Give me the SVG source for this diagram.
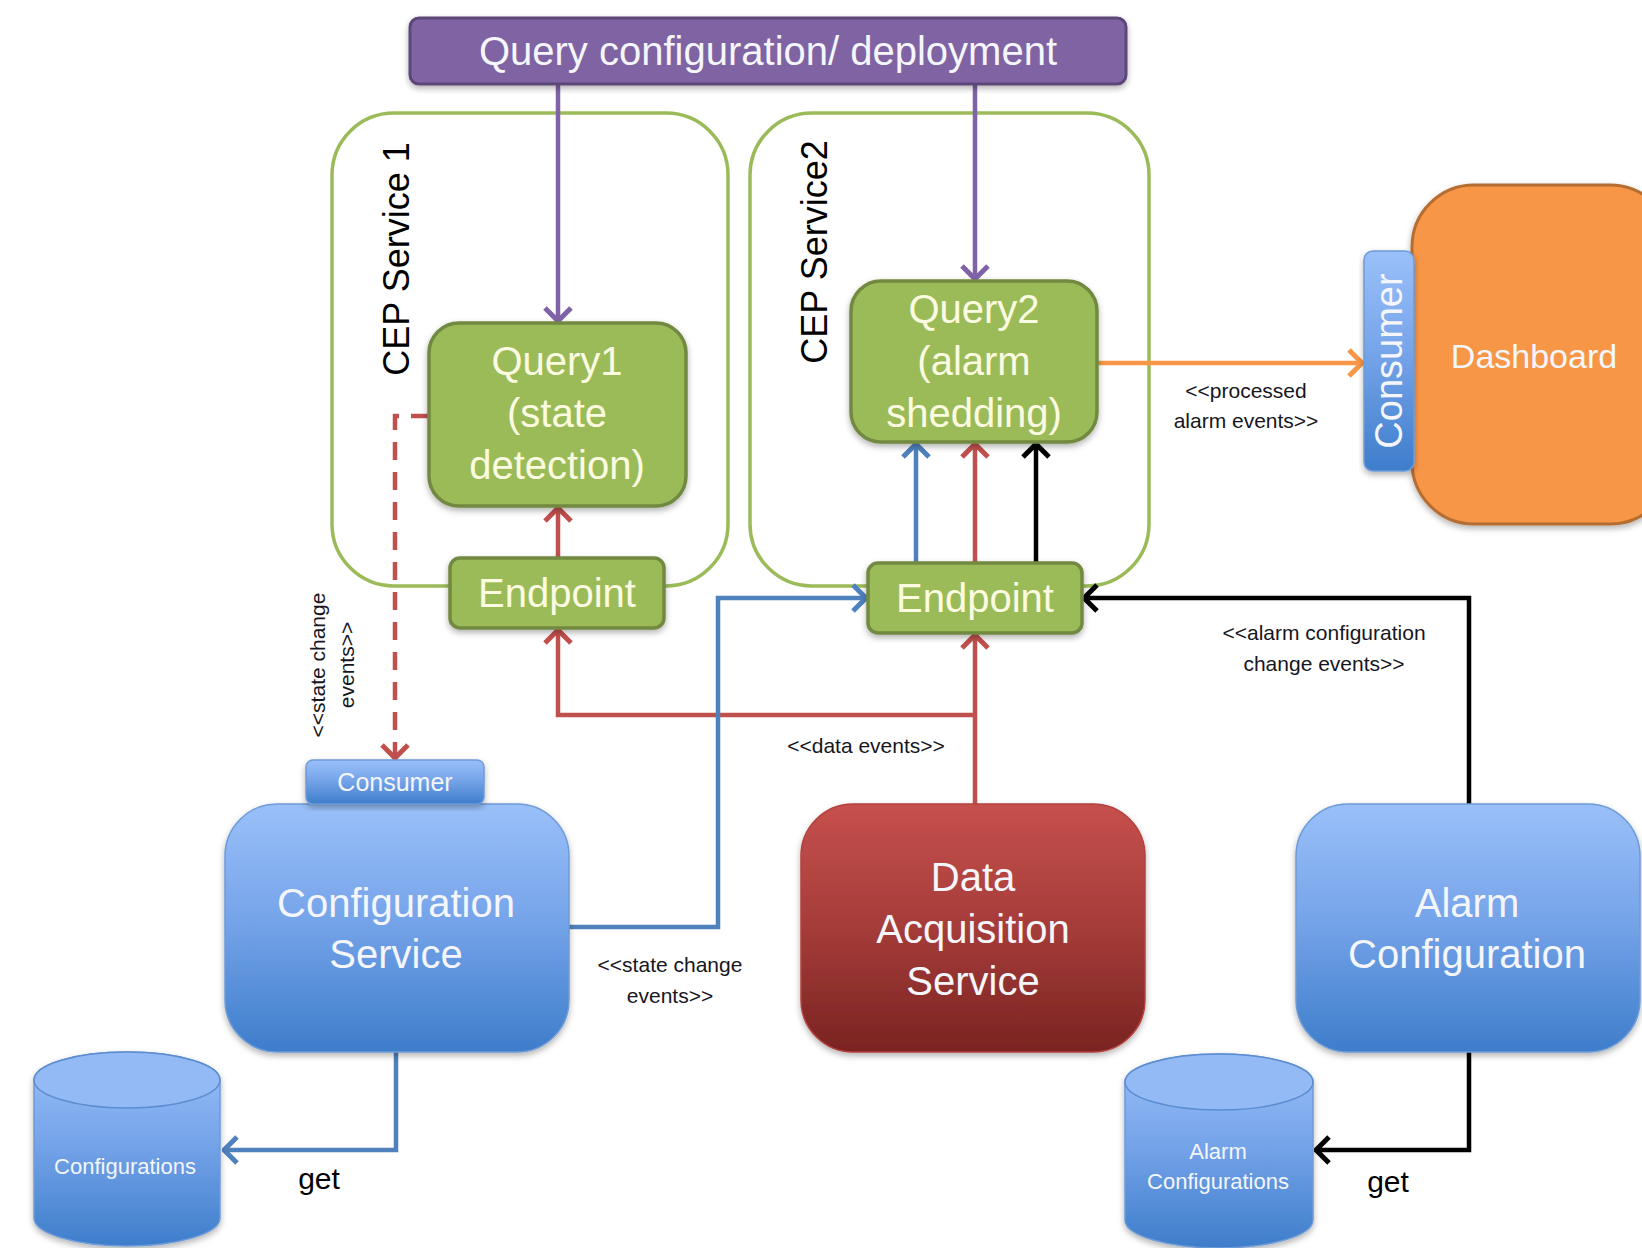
<svg xmlns="http://www.w3.org/2000/svg" width="1642" height="1248" viewBox="0 0 1642 1248">
<style>
text{font-family:"Liberation Sans",Arial,sans-serif;}
.c{text-anchor:middle;dominant-baseline:central;}
.q{fill:#FBFBE2;font-size:40px;}
.w{fill:#F4F6FB;}
.lbl{fill:#16161E;font-size:21px;}
.grn{fill:#9BBB59;stroke:#71893F;stroke-width:3.5;}
.cont{fill:none;stroke:#9BBB59;stroke-width:3.5;}
.blu{fill:url(#gBlue);stroke:#6D9BD8;stroke-width:1.5;}
.ln{fill:none;stroke-width:4.5;}
</style>
<defs>
<linearGradient id="gBlue" x1="0" y1="0" x2="0" y2="1">
<stop offset="0" stop-color="#9AC0F9"/>
<stop offset="0.45" stop-color="#77A5EA"/>
<stop offset="1" stop-color="#3E7DCB"/>
</linearGradient>
<linearGradient id="gRed" x1="0" y1="0" x2="0" y2="1">
<stop offset="0" stop-color="#C6504D"/>
<stop offset="0.5" stop-color="#A53C39"/>
<stop offset="1" stop-color="#7A2321"/>
</linearGradient>
<filter id="sh" x="-10%" y="-10%" width="120%" height="125%">
<feDropShadow dx="0" dy="3" stdDeviation="3" flood-color="#000" flood-opacity="0.3"/>
</filter>
<marker id="aPur" viewBox="0 0 30 30" markerUnits="userSpaceOnUse" markerWidth="30" markerHeight="30" refX="28" refY="15" orient="auto"><path d="M15,2 L28,15 L15,28" fill="none" stroke="#7F62A8" stroke-width="5"/></marker>
<marker id="aRed" viewBox="0 0 30 30" markerUnits="userSpaceOnUse" markerWidth="30" markerHeight="30" refX="28" refY="15" orient="auto"><path d="M15,2 L28,15 L15,28" fill="none" stroke="#C0504D" stroke-width="5"/></marker>
<marker id="aBlu" viewBox="0 0 30 30" markerUnits="userSpaceOnUse" markerWidth="30" markerHeight="30" refX="28" refY="15" orient="auto"><path d="M15,2 L28,15 L15,28" fill="none" stroke="#4F81BD" stroke-width="5"/></marker>
<marker id="aBlk" viewBox="0 0 30 30" markerUnits="userSpaceOnUse" markerWidth="30" markerHeight="30" refX="28" refY="15" orient="auto"><path d="M15,2 L28,15 L15,28" fill="none" stroke="#000" stroke-width="5"/></marker>
<marker id="aOra" viewBox="0 0 30 30" markerUnits="userSpaceOnUse" markerWidth="30" markerHeight="30" refX="28" refY="15" orient="auto"><path d="M15,2 L28,15 L15,28" fill="none" stroke="#F79646" stroke-width="5"/></marker>
</defs>
<rect width="1642" height="1248" fill="#fff"/>

<g id="cep1">
<rect class="cont" x="332" y="113" width="396" height="473" rx="62"/>
<text x="396" y="259" font-size="36" fill="#000" class="c" transform="rotate(-90 396 259)">CEP Service 1</text>
</g>
<g id="cep2">
<rect class="cont" x="750" y="113" width="399" height="473" rx="62"/>
<text x="814" y="252" font-size="36" fill="#000" class="c" transform="rotate(-90 814 252)">CEP Service2</text>
</g>

<g id="connectors">
<path class="ln" stroke="#7F62A8" d="M558,84 V321" marker-end="url(#aPur)"/>
<path class="ln" stroke="#7F62A8" d="M975,84 V279" marker-end="url(#aPur)"/>
<path class="ln" stroke="#C0504D" d="M558,558 V508" marker-end="url(#aRed)"/>
<path class="ln" stroke="#4F81BD" d="M916,563 V444" marker-end="url(#aBlu)"/>
<path class="ln" stroke="#C0504D" d="M975,563 V444" marker-end="url(#aRed)"/>
<path class="ln" stroke="#000" d="M1036,563 V444" marker-end="url(#aBlk)"/>
<path class="ln" stroke="#F79646" d="M1097,363 H1362" marker-end="url(#aOra)"/>
<path class="ln" stroke="#C0504D" d="M975,804 V635" marker-end="url(#aRed)"/>
<path class="ln" stroke="#C0504D" d="M975,715 H558 V630" marker-end="url(#aRed)"/>
<path class="ln" stroke="#4F81BD" d="M569,927 H718 V598 H866" marker-end="url(#aBlu)"/>
<path class="ln" stroke="#000" d="M1469,804 V598 H1084" marker-end="url(#aBlk)"/>
<path class="ln" stroke="#4F81BD" d="M396,1052 V1150 H224" marker-end="url(#aBlu)"/>
<path class="ln" stroke="#000" d="M1469,1052 V1150 H1316" marker-end="url(#aBlk)"/>
<path class="ln" stroke="#C0504D" stroke-dasharray="18 12" d="M429,416 H395 V758" marker-end="url(#aRed)"/>
</g>

<g id="labels">
<text class="c lbl" x="1246" y="390">&lt;&lt;processed</text>
<text class="c lbl" x="1246" y="420">alarm events&gt;&gt;</text>
<text class="c lbl" x="866" y="745">&lt;&lt;data events&gt;&gt;</text>
<text class="c lbl" x="670" y="964">&lt;&lt;state change</text>
<text class="c lbl" x="670" y="995">events&gt;&gt;</text>
<text class="c lbl" x="1324" y="632">&lt;&lt;alarm configuration</text>
<text class="c lbl" x="1324" y="663">change events&gt;&gt;</text>
<g transform="rotate(-90 331 665)">
<text class="c lbl" x="331" y="651">&lt;&lt;state change</text>
<text class="c lbl" x="331" y="680">events&gt;&gt;</text>
</g>
<text class="c" x="319" y="1178" font-size="30" fill="#000">get</text>
<text class="c" x="1388" y="1181" font-size="30" fill="#000">get</text>
</g>

<g id="query-config">
<rect x="410" y="18" width="716" height="66" rx="9" fill="#8064A2" stroke="#5C4679" stroke-width="3" filter="url(#sh)"/>
<text class="c w" x="768" y="51" font-size="40">Query configuration/ deployment</text>
</g>

<g id="query1">
<rect class="grn" x="429" y="323" width="257" height="183" rx="30" filter="url(#sh)"/>
<text class="c q" x="557" y="361">Query1</text>
<text class="c q" x="557" y="413">(state</text>
<text class="c q" x="557" y="465">detection)</text>
</g>
<g id="query2">
<rect class="grn" x="851" y="281" width="246" height="161" rx="30" filter="url(#sh)"/>
<text class="c q" x="974" y="309">Query2</text>
<text class="c q" x="974" y="361">(alarm</text>
<text class="c q" x="974" y="413">shedding)</text>
</g>
<g id="endpoint1">
<rect class="grn" x="450" y="558" width="214" height="70" rx="10" filter="url(#sh)"/>
<text class="c q" x="557" y="593">Endpoint</text>
</g>
<g id="endpoint2">
<rect class="grn" x="868" y="563" width="214" height="70" rx="10" filter="url(#sh)"/>
<text class="c q" x="975" y="598">Endpoint</text>
</g>

<g id="dashboard">
<rect x="1412" y="185" width="260" height="339" rx="62" fill="#F79646" stroke="#B66D31" stroke-width="3" filter="url(#sh)"/>
<text class="c w" x="1534" y="356" font-size="34">Dashboard</text>
</g>
<g id="consumer-dashboard">
<rect class="blu" x="1364" y="251" width="50" height="220" rx="9" filter="url(#sh)"/>
<text class="c w" x="1389" y="361" font-size="38" transform="rotate(-90 1389 361)">Consumer</text>
</g>

<g id="config-service">
<rect class="blu" x="225" y="804" width="344" height="248" rx="52" filter="url(#sh)"/>
<text class="c w" x="396" y="903" font-size="40">Configuration</text>
<text class="c w" x="396" y="954" font-size="40">Service</text>
</g>
<g id="consumer-config">
<rect class="blu" x="306" y="760" width="178" height="44" rx="7" filter="url(#sh)"/>
<text class="c w" x="395" y="782" font-size="25">Consumer</text>
</g>

<g id="data-acquisition">
<rect x="801" y="804" width="344" height="248" rx="52" fill="url(#gRed)" stroke="#B3413E" stroke-width="1.5" filter="url(#sh)"/>
<text class="c w" x="973" y="877" font-size="40">Data</text>
<text class="c w" x="973" y="929" font-size="40">Acquisition</text>
<text class="c w" x="973" y="981" font-size="40">Service</text>
</g>

<g id="alarm-config">
<rect class="blu" x="1296" y="804" width="344" height="248" rx="52" filter="url(#sh)"/>
<text class="c w" x="1467" y="903" font-size="40">Alarm</text>
<text class="c w" x="1467" y="954" font-size="40">Configuration</text>
</g>

<g id="configurations-db">
<path class="blu" d="M34,1080 V1218 A93,28 0 0 0 220,1218 V1080 A93,28 0 0 0 34,1080 Z" filter="url(#sh)"/>
<ellipse cx="127" cy="1080" rx="93" ry="28" fill="#93BAF5" stroke="#5B8DD0" stroke-width="1.5"/>
<text class="c w" x="125" y="1166" font-size="22">Configurations</text>
</g>

<g id="alarm-configurations-db">
<path class="blu" d="M1125,1082 V1220 A94,28 0 0 0 1313,1220 V1082 A94,28 0 0 0 1125,1082 Z" filter="url(#sh)"/>
<ellipse cx="1219" cy="1082" rx="94" ry="28" fill="#93BAF5" stroke="#5B8DD0" stroke-width="1.5"/>
<text class="c w" x="1218" y="1151" font-size="22">Alarm</text>
<text class="c w" x="1218" y="1181" font-size="22">Configurations</text>
</g>
</svg>
